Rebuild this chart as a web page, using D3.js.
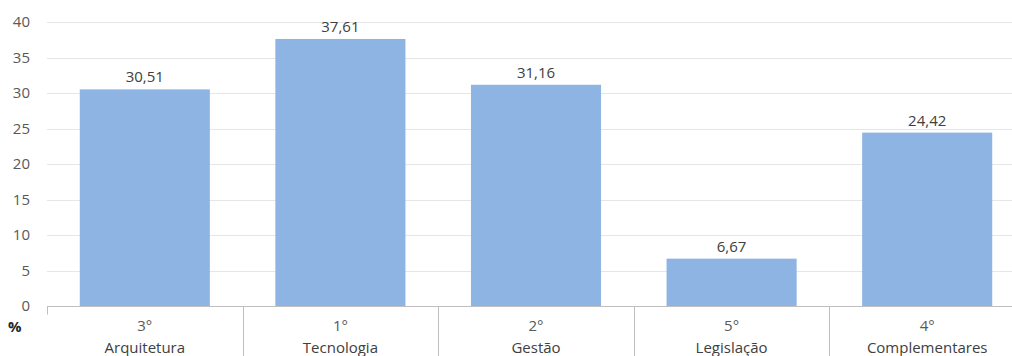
<!DOCTYPE html>
<html>
<head>
<meta charset="utf-8">
<script src="https://cdn.jsdelivr.net/npm/d3@7"></script>
<style>
  body { margin: 0; background: #fff; }
  svg { display: block; font-family: "Open Sans", sans-serif; }
</style>
</head>
<body>
<svg id="chart"></svg>
<script>
var categories = ["Arquitetura", "Tecnologia", "Gestão", "Legislação", "Complementares"];
var ranks = ["3°", "1°", "2°", "5°", "4°"];
var values = [30.51, 37.61, 31.16, 6.67, 24.42];
var yTicks = [0, 5, 10, 15, 20, 25, 30, 35, 40];

var width = 1012, height = 356;
var margin = {top: 22, right: -13, bottom: 50, left: 47};

var svg = d3.select("#chart")
    .attr("width", width)
    .attr("height", height);

var x = d3.scaleBand()
    .domain(categories)
    .range([margin.left, width - margin.right])
    .paddingInner(0.335)
    .paddingOuter(0.1675);

var y = d3.scaleLinear()
    .domain([0, 40])
    .range([height - margin.bottom, margin.top]);

// gridlines
svg.append("g")
    .selectAll("line")
    .data(yTicks.slice(1))
    .enter().append("line")
    .attr("x1", margin.left)
    .attr("x2", width)
    .attr("y1", function(d) { return Math.round(y(d)) + 0.5; })
    .attr("y2", function(d) { return Math.round(y(d)) + 0.5; })
    .attr("stroke", "#e6e6e6")
    .attr("stroke-width", 1);

// y labels
svg.append("g")
    .selectAll("text")
    .data(yTicks)
    .enter().append("text")
    .attr("x", 30)
    .attr("y", function(d) { return y(d); })
    .attr("dy", "0.35em")
    .attr("text-anchor", "end")
    .attr("font-size", 15)
    .attr("fill", "#595959")
    .text(function(d) { return d; });

// bars
svg.append("g")
    .selectAll("rect")
    .data(values)
    .enter().append("rect")
    .attr("x", function(d, i) { return x(categories[i]); })
    .attr("width", x.bandwidth())
    .attr("y", function(d) { return y(d); })
    .attr("height", function(d) { return y(0) - y(d); })
    .attr("fill", "#8db4e2");

// value labels
svg.append("g")
    .selectAll("text")
    .data(values)
    .enter().append("text")
    .attr("x", function(d, i) { return x(categories[i]) + x.bandwidth() / 2; })
    .attr("y", function(d) { return y(d) - 7; })
    .attr("text-anchor", "middle")
    .attr("font-size", 15)
    .attr("fill", "#404040")
    .text(function(d) { return d.toFixed(2).replace(".", ","); });

// category axis
var y0 = Math.round(y(0)) + 0.5;
svg.append("line")
    .attr("x1", margin.left).attr("x2", width)
    .attr("y1", y0).attr("y2", y0)
    .attr("stroke", "#bfbfbf");

var step = x.step();
var dividers = categories.map(function(c, i) { return margin.left + i * step; });
svg.append("g")
    .selectAll("line")
    .data(dividers)
    .enter().append("line")
    .attr("x1", function(d) { return Math.round(d) + 0.5; })
    .attr("x2", function(d) { return Math.round(d) + 0.5; })
    .attr("y1", y0)
    .attr("y2", function(d, i) { return i === 0 ? y0 + 8 : height; })
    .attr("stroke", "#bfbfbf");

var labels = svg.append("g");
labels.selectAll("text.rank")
    .data(ranks)
    .enter().append("text")
    .attr("class", "rank")
    .attr("x", function(d, i) { return x(categories[i]) + x.bandwidth() / 2; })
    .attr("y", 331)
    .attr("text-anchor", "middle")
    .attr("font-size", 15)
    .attr("fill", "#595959")
    .text(function(d) { return d; });

labels.selectAll("text.cat")
    .data(categories)
    .enter().append("text")
    .attr("class", "cat")
    .attr("x", function(d) { return x(d) + x.bandwidth() / 2; })
    .attr("y", 353)
    .attr("text-anchor", "middle")
    .attr("font-size", 15)
    .attr("fill", "#404040")
    .text(function(d) { return d; });

svg.append("text")
    .attr("x", 8)
    .attr("y", 332)
    .attr("font-size", 15)
    .attr("font-weight", "bold")
    .attr("fill", "#262626")
    .text("%");
</script>
</body>
</html>
